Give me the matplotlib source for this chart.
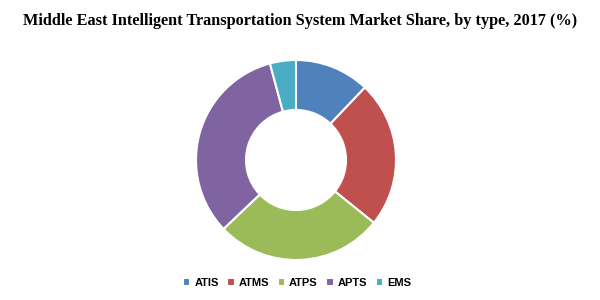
import matplotlib.pyplot as plt
import matplotlib as mpl

mpl.rcParams["font.family"] = 'Liberation Sans'

# data
labels = ['ATIS', 'ATMS', 'ATPS', 'APTS', 'EMS']
shares = [12.1, 23.7, 27.1, 32.9, 4.2]
colors = ['#4F81BD', '#C0504D', '#9BBB59', '#8064A2', '#4BACC6']

fig = plt.figure(figsize=(6, 3), dpi=100)
fig.patch.set_facecolor('white')

# pie axes: centre ~ (296,160) px, radius ~100 px
cx, cy, r = 296, 160, 100
ax = fig.add_axes([(cx - r) / 600, (300 - cy - r) / 300, 2 * r / 600, 2 * r / 300])
wedges, _ = ax.pie(shares, colors=colors, startangle=90, counterclock=False,
                   radius=1, wedgeprops=dict(width=0.5, edgecolor='white', linewidth=1.5))
ax.set_xlim(-1, 1)
ax.set_ylim(-1, 1)
ax.set_aspect('equal')
ax.axis('off')

fig.text(0.5, 0.93, 'Middle East Intelligent Transportation System Market Share, by type, 2017 (%)',
         ha='center', va='center', fontsize=11.7, fontweight='bold', family='Liberation Serif')

fig.legend(wedges, labels, loc='center', bbox_to_anchor=(0.495, 0.057), ncol=5, frameon=False,
           prop=dict(size=8, weight='bold'), handlelength=0.7, handleheight=0.7,
           handletextpad=0.35, columnspacing=0.75)

fig.savefig('out.png', dpi=100)
